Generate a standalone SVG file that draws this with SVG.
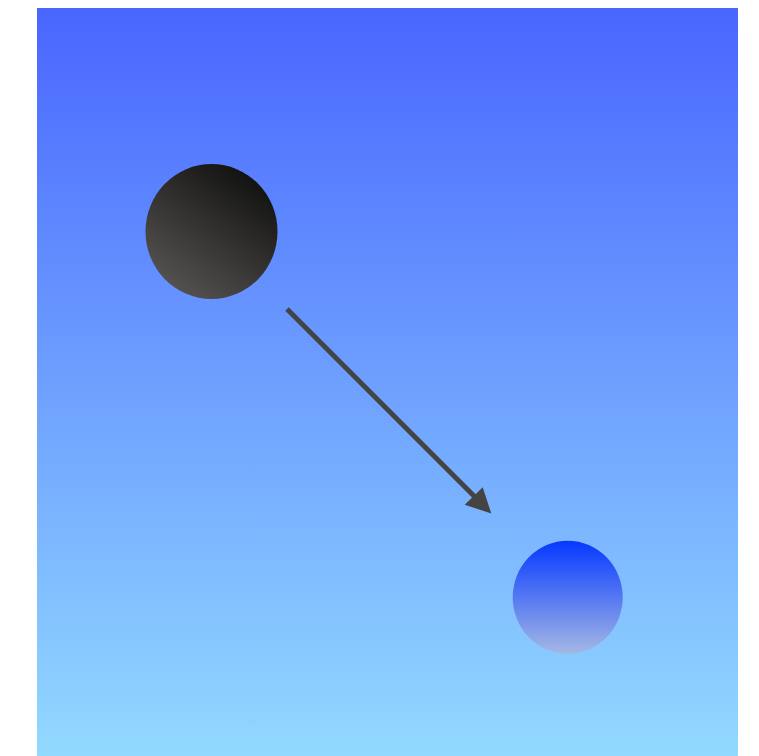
<svg xmlns="http://www.w3.org/2000/svg" width="759" height="756" viewBox="0 0 759 756">
<defs>
<linearGradient id="bg" x1="0" y1="0" x2="0" y2="1">
<stop offset="0" stop-color="#4966ff"/>
<stop offset="1" stop-color="#92d9ff"/>
</linearGradient>
<linearGradient id="g1" x1="0.85" y1="0" x2="0.15" y2="1">
<stop offset="0" stop-color="#0c0c0a"/>
<stop offset="1" stop-color="#5a5856"/>
</linearGradient>
<linearGradient id="g2" x1="0" y1="0" x2="0" y2="1">
<stop offset="0" stop-color="#0538ff"/>
<stop offset="1" stop-color="#a5b8e4"/>
</linearGradient>
<style>.edge{stroke:#444444;stroke-width:5;fill:none}.head{fill:#444444}</style>
</defs>
<rect x="37" y="8" width="701" height="748" fill="url(#bg)"/>
<g id="connectors">
<line class="edge" x1="287" y1="309" x2="476" y2="498"/>
<polygon class="head" points="491.3,513.5 464.7,504.7 482.7,487.3"/>
</g>
<g id="node1">
<ellipse cx="211.5" cy="231.5" rx="66" ry="67.5" fill="url(#g1)"/>
</g>
<g id="node2">
<ellipse cx="567.7" cy="597.3" rx="55" ry="56.6" fill="url(#g2)"/>
</g>
</svg>
